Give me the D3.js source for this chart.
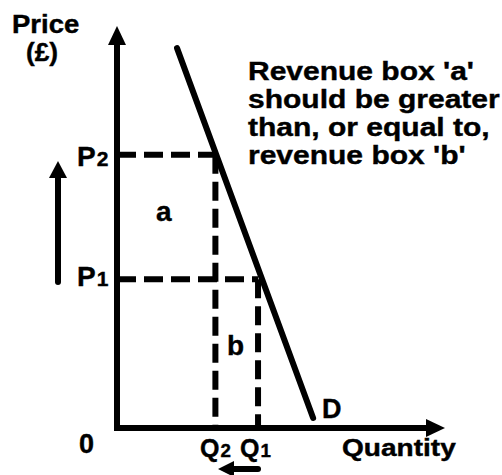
<!DOCTYPE html>
<html><head><meta charset="utf-8">
<script src="https://cdn.jsdelivr.net/npm/d3@7"></script>
<style>body{margin:0;background:#fff}svg{display:block}text{font-family:"Liberation Sans",Arial,sans-serif;font-weight:bold;fill:#000;stroke:#000;stroke-width:0.4px}</style>
</head><body><svg id="c" width="502" height="475"></svg>
<script>
// Data
const priceLevels = [{name:"P", sub:"1", value:37}, {name:"P", sub:"2", value:68}];
const quantityLevels = [{name:"Q", sub:"1", value:43}, {name:"Q", sub:"2", value:30}];
const demandLine = [{q:18.3, p:94.5}, {q:59.8, p:2.5}];
const axisLabels = {x:"Quantity", y:["Price","(£)"], origin:"0", demand:"D"};
const boxLabels = ["a","b"];
const noteLines = ["Revenue box 'a'","should be greater","than, or equal to,","revenue box 'b'"];

const svg = d3.select("#c");
const x = d3.scaleLinear().domain([0,100]).range([117,445]);
const y = d3.scaleLinear().domain([0,100]).range([428,26]);
const SX = 1.2;

function txt(str, px, py, size, sx, anchor){
  return svg.append("text").attr("transform",`translate(${px},${py}) scale(${sx||SX},1)`)
    .attr("font-size",size).attr("text-anchor",anchor||"start").text(str);
}
function subTxt(main, sub, px, py, size, sx){
  const t = svg.append("text").attr("transform",`translate(${px},${py}) scale(${sx||SX},1)`).attr("font-size",size);
  t.append("tspan").text(main);
  t.append("tspan").attr("font-size",size*0.75).attr("dx",1).text(sub);
  return t;
}

// dashed lines
const P1 = priceLevels[0].value, P2 = priceLevels[1].value;
const Q1 = quantityLevels[0].value, Q2 = quantityLevels[1].value;
const dash = "19,8";
const dl = svg.append("g").attr("stroke","#000").attr("stroke-width",6).attr("stroke-dasharray",dash).attr("fill","none");
dl.append("line").attr("x1",x(0)).attr("x2",x(Q2)).attr("y1",y(P2)).attr("y2",y(P2));
dl.append("line").attr("x1",x(0)).attr("x2",x(Q1)).attr("y1",y(P1)).attr("y2",y(P1));
dl.append("line").attr("x1",x(Q2)).attr("x2",x(Q2)).attr("y1",y(P2)).attr("y2",y(0));
dl.append("line").attr("x1",x(Q1)).attr("x2",x(Q1)).attr("y1",y(P1)).attr("y2",y(0));

// axes
const ax = svg.append("g");
ax.append("path").attr("d",`M${x(0)},${y(0)+3}V${y(100)+16}`).attr("stroke","#000").attr("stroke-width",6).attr("fill","none");
ax.append("path").attr("d",`M${x(0)-3},${y(0)}H${x(100)-16}`).attr("stroke","#000").attr("stroke-width",6).attr("fill","none");
ax.append("path").attr("d",`M${x(0)},${y(100)}L${x(0)+9},${y(100)+19}L${x(0)-9},${y(100)+19}Z`).attr("fill","#000");
ax.append("path").attr("d",`M${x(100)},${y(0)}L${x(100)-19},${y(0)-9}L${x(100)-19},${y(0)+9}Z`).attr("fill","#000");

// demand
const line = d3.line().x(d=>x(d.q)).y(d=>y(d.p));
svg.append("path").datum(demandLine).attr("d",line).attr("stroke","#000").attr("stroke-width",6).attr("stroke-linecap","round").attr("fill","none");

// small arrows
svg.append("path").attr("d","M58,282V176").attr("stroke","#000").attr("stroke-width",6).attr("stroke-linecap","round").attr("fill","none");
svg.append("path").attr("d","M58,161L67,178L49,178Z").attr("fill","#000");
svg.append("path").attr("d","M258,469H232").attr("stroke","#000").attr("stroke-width",6).attr("stroke-linecap","round").attr("fill","none");
svg.append("path").attr("d","M218,469L234,461L234,477Z").attr("fill","#000");

// labels
txt(axisLabels.y[0],12,33,25,1.1);
txt(axisLabels.y[1],26,61,25,1.05);
txt(axisLabels.x,342,456,23,1.22);
txt(axisLabels.origin,79,453,27,1.0);
txt(axisLabels.demand,322,418,27,1.0);
subTxt(priceLevels[1].name,priceLevels[1].sub,77,166,28,1.0);
subTxt(priceLevels[0].name,priceLevels[0].sub,77,286,28,1.0);
subTxt(quantityLevels[1].name,quantityLevels[1].sub,200,457,25,1.0);
subTxt(quantityLevels[0].name,quantityLevels[0].sub,240,457,25,1.0);
txt(boxLabels[0],156,221,28,1.0);
txt(boxLabels[1],227,355,28,1.0);
noteLines.forEach((s,i)=>txt(s,248,80+i*28,25));
</script></body></html>
